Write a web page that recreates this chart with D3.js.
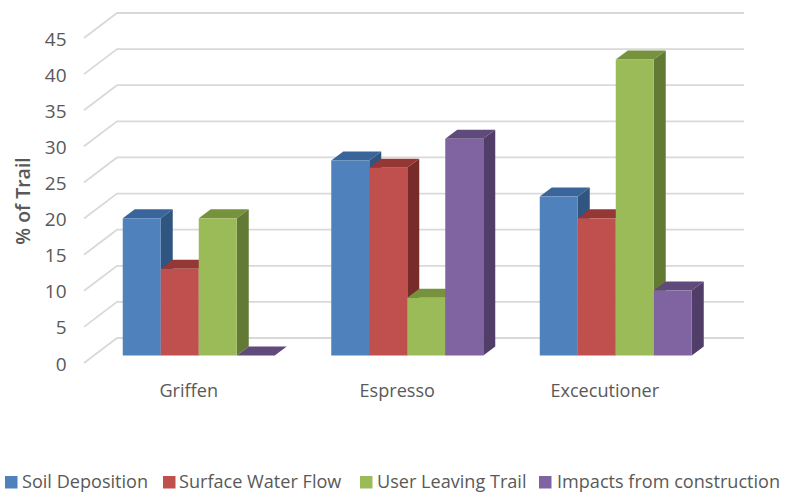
<!DOCTYPE html>
<html><head><meta charset="utf-8">
<script src="https://cdn.jsdelivr.net/npm/d3@7"></script>
<style>html,body{margin:0;background:#fff}svg{display:block}text{font-family:"Open Sans",sans-serif}</style>
</head><body><svg id="c" width="787" height="493"></svg>
<script>
const categories = ["Griffen","Espresso","Excecutioner"];
const seriesNames = ["Soil Deposition","Surface Water Flow","User Leaving Trail","Impacts from construction"];
const soil = [19,27,22];
const water = [12,26,19];
const user = [19,8,41];
const impacts = [0,30,9];
const seriesValues = [soil,water,user,impacts];
const tickValues = d3.range(0,50,5);
const front = ["#4f81bd","#c0504d","#9bbb59","#8064a2"];
const top_ = ["#3a659b","#953735","#76923c","#604a7b"];
const side = ["#2f5580","#772c2a","#637a35","#503d68"];

const svg = d3.select("#c");
const y = d3.scaleLinear().domain([0,45]).range([363,38]);   // front wall edge
const wall = {dx:33, dy:-25};
const plane = {dx:10, dy:-7.5};  // front face of bars
const depth = {dx:12, dy:-9};
const x0 = d3.scaleBand().domain(categories).range([94.5,720]);
const x1 = d3.scaleBand().domain(d3.range(4)).range([0,152]);
const pad = (x0.bandwidth()-152)/2;

// gridlines
const g = svg.append("g").attr("fill","none").attr("stroke","#d9d9d9").attr("stroke-width",1.8);
g.selectAll("path").data(tickValues).join("path")
 .attr("d",d=>d3.line()([[84,y(d)],[84+wall.dx,y(d)+wall.dy],[744,y(d)+wall.dy]]));

// y axis labels
const ax = svg.append("g").attr("transform","translate(70.5,1)")
 .call(d3.axisLeft(y).tickValues(tickValues).tickSize(0).tickPadding(4));
ax.select(".domain").remove();
ax.selectAll("text").attr("font-family",'"Open Sans",sans-serif').attr("font-size",19).attr("fill","#595959")
 .attr("dy","0.32em").attr("font-weight",400);

// bars
const by = v => y(v)+plane.dy;
categories.forEach((c,ci)=>{
  seriesValues.forEach((vals,si)=>{
    const v = vals[ci], l = x0(c)+pad+x1(si), w = x1.bandwidth(), r = l+w, t = by(v), b = by(0);
    const line = d3.line();
    const bar = svg.append("g");
    bar.append("path").attr("fill",side[si]).attr("d",line([[r,t],[r+depth.dx,t+depth.dy],[r+depth.dx,b+depth.dy],[r,b]])+"Z");
    bar.append("path").attr("fill",top_[si]).attr("d",line([[l,t],[l+depth.dx,t+depth.dy],[r+depth.dx,t+depth.dy],[r,t]])+"Z");
    bar.append("rect").attr("fill",front[si]).attr("x",l).attr("y",t).attr("width",w).attr("height",b-t);
  });
});

// category labels
svg.append("g").selectAll("text").data(categories).join("text")
 .attr("x",(d,i)=>x0(d)+x0.bandwidth()/2-10 + [0,0,-1][i]).attr("y",396.5).attr("text-anchor","middle")
 .attr("font-size",18.1).attr("fill","#595959").text(d=>d);

// y title
svg.append("text").attr("transform","translate(30,201) rotate(-90)").attr("text-anchor","middle")
 .attr("font-size",19.5).attr("font-weight",600).attr("fill","#595959").text("% of Trail");

// legend
const legendX = [5,163,360,539];
const lg = svg.append("g").selectAll("g").data(seriesNames).join("g")
 .attr("transform",(d,i)=>`translate(${legendX[i]},0)`);
lg.append("rect").attr("y",476).attr("width",12.5).attr("height",12.5).attr("fill",(d,i)=>front[i]);
lg.append("text").attr("x",(d,i)=>[17,16,17,18][i]).attr("y",487.5).attr("font-size",18.1).attr("fill","#595959").text(d=>d);
</script></body></html>
